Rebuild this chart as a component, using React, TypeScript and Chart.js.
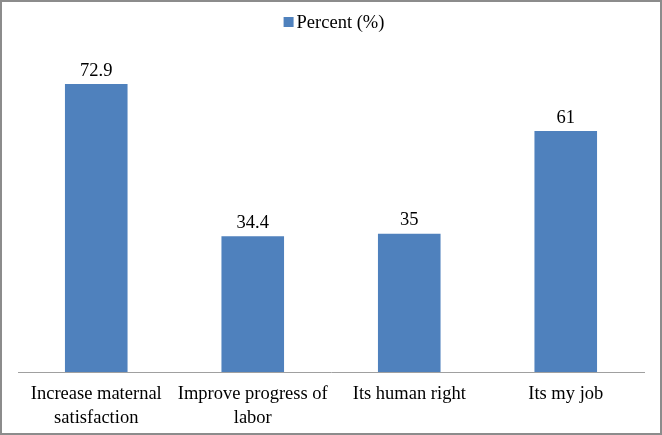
import React, { useEffect, useRef } from "react";
import { Chart, registerables } from "chart.js";

Chart.register(...registerables);

const categories: (string | string[])[] = [
  ["Increase maternal", "satisfaction"],
  ["Improve progress of", "labor"],
  "Its human right",
  "Its my job",
];
const seriesName = "Percent (%)";
const percentValues = [72.9, 34.4, 35, 61];

const FONT = "'Liberation Serif', 'Times New Roman', serif";
const FS = 18.5;
const BAR_COLOR = "#4f81bd";

const valueLabels = {
  id: "valueLabels",
  afterDatasetsDraw(chart: any) {
    const ctx = chart.ctx;
    const meta = chart.getDatasetMeta(0);
    ctx.save();
    ctx.font = `${FS}px ${FONT}`;
    ctx.fillStyle = "#000";
    ctx.textAlign = "center";
    ctx.textBaseline = "bottom";
    meta.data.forEach((bar: any, i: number) => {
      ctx.fillText(String(percentValues[i]), bar.x, bar.y - 4);
    });
    ctx.restore();
  },
};

const topLegend = {
  id: "topLegend",
  afterDraw(chart: any) {
    const ctx = chart.ctx;
    const name = chart.data.datasets[0].label;
    ctx.save();
    ctx.font = `${FS}px ${FONT}`;
    const w = ctx.measureText(name).width;
    const box = 10;
    const gap = 3;
    const total = box + gap + w;
    const cx = (chart.chartArea.left + chart.chartArea.right) / 2 + 3;
    const x0 = cx - total / 2;
    const yMid = 20;
    ctx.fillStyle = BAR_COLOR;
    ctx.fillRect(x0, yMid - box / 2, box, box);
    ctx.fillStyle = "#000";
    ctx.textAlign = "left";
    ctx.textBaseline = "middle";
    ctx.fillText(name, x0 + box + gap, yMid + 1);
    ctx.restore();
  },
};

export default function App() {
  const ref = useRef<HTMLCanvasElement | null>(null);
  useEffect(() => {
    if (!ref.current) return;
    const chart = new Chart(ref.current, {
      type: "bar",
      data: {
        labels: categories,
        datasets: [
          {
            label: seriesName,
            data: percentValues,
            backgroundColor: BAR_COLOR,
            borderWidth: 0,
            categoryPercentage: 1,
            barPercentage: 0.4,
          },
        ],
      },
      options: {
        animation: false,
        responsive: false,
        maintainAspectRatio: false,
        layout: { padding: { left: 16, right: 16, top: 40.6, bottom: 0 } },
        plugins: {
          legend: { display: false },
          tooltip: { enabled: false },
        },
        scales: {
          x: {
            grid: { display: false, drawTicks: false },
            border: { display: true, color: "#a0a0a0", width: 1 },
            afterFit: (scale: any) => {
              scale.height = 61;
            },
            ticks: {
              color: "#000",
              padding: 11,
              maxRotation: 0,
              autoSkip: false,
              font: { family: FONT, size: FS, lineHeight: 1.25 },
            },
          },
          y: {
            display: false,
            min: 0,
            max: 83.4,
          },
        },
      },
      plugins: [valueLabels, topLegend],
    });
    return () => chart.destroy();
  }, []);
  return (
    <div
      style={{
        position: "absolute",
        left: 0,
        top: 0,
        width: 662,
        height: 435,
        boxSizing: "border-box",
        border: "2px solid #8c8c8c",
        background: "#fff",
      }}
    >
      <canvas ref={ref} width={658} height={431} style={{ display: "block" }} />
    </div>
  );
}
